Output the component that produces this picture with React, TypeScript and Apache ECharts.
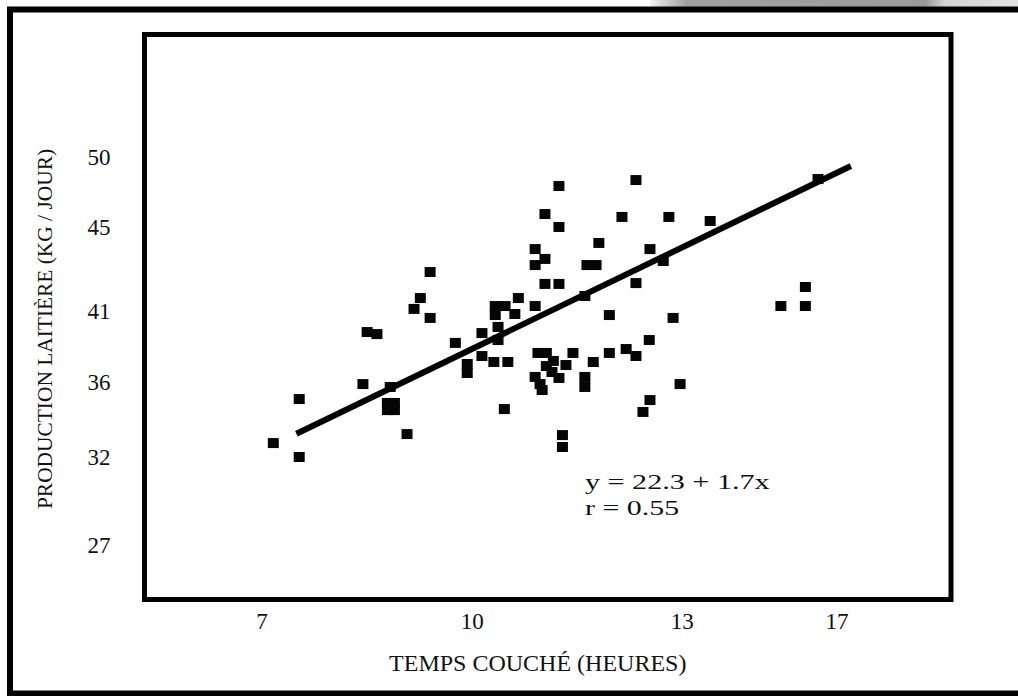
import React, { useEffect, useRef } from "react";
import * as echarts from "echarts";

// Temps couché (heures) for each cow
const tempsCouche: number[] = [
  7.16, 7.53, 7.53, 8.44, 8.5, 8.64, 8.83, 8.79, 8.89, 8.79,
  8.89, 9.07, 9.26, 9.17, 9.4, 9.4, 9.76, 9.93, 9.93, 10.14,
  10.14, 10.31, 10.51, 10.37, 10.37, 10.33, 10.47, 10.33, 10.61, 10.66,
  10.9, 10.46, 11.04, 11.24, 10.9, 11.04, 10.9, 11.04, 11.24, 11.24,
  10.94, 11.06, 11.16, 11.06, 11.14, 11.34, 11.44, 10.9, 10.97, 11.0,
  11.24, 11.61, 11.61, 11.73, 11.96, 12.2, 12.34, 12.53, 11.29, 11.29,
  11.61, 11.64, 11.77, 11.81, 11.96, 12.14, 12.34, 12.34, 12.54, 12.73,
  12.81, 12.87, 12.97, 12.54, 12.44, 13.4, 14.41, 14.76, 14.76, 14.94,
];

// Production laitière (kg / jour) for each cow
const productionLait: number[] = [
  32.85, 35.44, 32.03, 36.32, 39.38, 39.26, 36.15, 35.21, 35.21, 34.79,
  34.79, 33.38, 41.38, 40.74, 40.21, 42.91, 38.74, 37.5, 36.97, 39.32,
  37.97, 37.62, 37.62, 39.68, 38.91, 40.91, 40.91, 40.38, 40.44, 41.38,
  40.91, 34.85, 42.21, 42.21, 44.26, 43.68, 43.32, 46.32, 45.56, 47.97,
  38.15, 38.15, 37.68, 37.38, 37.03, 37.44, 38.15, 36.74, 36.32, 35.97,
  36.68, 36.74, 36.15, 37.62, 38.15, 38.38, 37.97, 38.91, 33.32, 32.62,
  41.5, 43.32, 43.32, 44.62, 40.38, 46.15, 48.32, 42.26, 44.26, 43.56,
  46.15, 40.21, 36.32, 35.38, 34.68, 45.91, 40.91, 40.91, 42.03, 48.38,
];

// Regression line end points as drawn in the figure
const droiteX: number[] = [7.49, 15.41];
const droiteY: number[] = [33.4, 49.15];

// Tick labels and where the figure prints them on its axes
const xTickText: string[] = ["7", "10", "13", "17"];
const xTickPos: number[] = [7, 10, 13, 15.21];
const yTickText: string[] = ["50", "45", "41", "36", "32", "27"];
const yTickPos: number[] = [49.62, 45.5, 40.56, 36.44, 32.03, 26.85];

const equationLines: string[] = ["y = 22.3 + 1.7x", "r = 0.55"];

const FONT = "'Liberation Serif', 'Times New Roman', serif";

function pick(pos: number[], text: string[], v: number): string {
  const i = pos.findIndex((p) => Math.abs(p - v) < 1e-6);
  return i >= 0 ? text[i] : "";
}

export default function App() {
  const ref = useRef<HTMLDivElement>(null);
  useEffect(() => {
    if (!ref.current) return;
    const chart = echarts.init(ref.current, null, { renderer: "svg" });
    const points = tempsCouche.map((x, i) => [x, productionLait[i]]);
    const line = droiteX.map((x, i) => [x, droiteY[i]]);
    chart.setOption({
      animation: false,
      backgroundColor: "#ffffff",
      grid: {
        left: 144.5,
        right: 67,
        top: 34.5,
        bottom: 96.5,
        show: true,
        borderColor: "#000",
        borderWidth: 5,
        outerBoundsMode: "none",
        containLabel: false,
      },
      xAxis: {
        type: "value",
        min: 5.32,
        max: 16.84,
        axisLine: { show: false },
        axisTick: { show: false },
        splitLine: { show: false },
        axisLabel: {
          customValues: xTickPos,
          formatter: (v: number) => pick(xTickPos, xTickText, v),
          margin: 10,
          color: "#111",
          fontFamily: FONT,
          fontSize: 23,
        },
        name: "TEMPS COUCHÉ (HEURES)",
        nameLocation: "middle",
        nameGap: 51,
        nameTextStyle: {
          color: "#111",
          fontFamily: FONT,
          fontSize: 24,
          padding: [0, 20, 0, 0],
        },
      },
      yAxis: {
        type: "value",
        min: 23.65,
        max: 56.88,
        axisLine: { show: false },
        axisTick: { show: false },
        splitLine: { show: false },
        axisLabel: {
          customValues: yTickPos,
          formatter: (v: number) => pick(yTickPos, yTickText, v),
          margin: 34,
          color: "#111",
          fontFamily: FONT,
          fontSize: 23,
        },
        name: "PRODUCTION LAITIÈRE (KG / JOUR)",
        nameLocation: "middle",
        nameGap: 89,
        nameRotate: 90,
        nameTextStyle: {
          color: "#111",
          fontFamily: FONT,
          fontSize: 21.4,
          padding: [0, 24, 0, 0],
        },
      },
      graphic: [
        {
          type: "rect",
          shape: { x: 650, y: 0, width: 368, height: 7 },
          style: {
            fill: {
              type: "linear",
              x: 0,
              y: 0,
              x2: 1,
              y2: 0,
              colorStops: [
                { offset: 0, color: "#f0f0f0" },
                { offset: 0.1, color: "#a0a0a0" },
                { offset: 0.75, color: "#9a9a9a" },
                { offset: 0.8, color: "#d4d4d4" },
                { offset: 1, color: "#e2e2e2" },
              ],
            },
          },
          z: 100,
        },
        {
          type: "rect",
          shape: { x: 10, y: 9.5, width: 1040, height: 684 },
          style: { fill: "none", stroke: "#000", lineWidth: 6 },
          z: 100,
        },
        {
          type: "text",
          x: 585,
          y: 481,
          style: {
            text: equationLines[0],
            fontFamily: FONT,
            fontSize: 22,
            fill: "#111",
            verticalAlign: "middle",
          },
          scaleX: 1.37,
          z: 100,
        },
        {
          type: "text",
          x: 585,
          y: 508,
          style: {
            text: equationLines[1],
            fontFamily: FONT,
            fontSize: 22,
            fill: "#111",
            verticalAlign: "middle",
          },
          scaleX: 1.36,
          z: 100,
        },
      ],
      series: [
        {
          type: "scatter",
          data: points,
          symbol: "rect",
          symbolSize: [11, 10],
          itemStyle: { color: "#050505", opacity: 1 },
          z: 2,
        },
        {
          type: "line",
          data: line,
          showSymbol: false,
          lineStyle: { color: "#000", width: 6 },
          z: 3,
        },
      ],
    });
    return () => chart.dispose();
  }, []);
  return (
    <div
      ref={ref}
      style={{ position: "fixed", left: 0, top: 0, width: 1018, height: 696, background: "#fff" }}
    />
  );
}
